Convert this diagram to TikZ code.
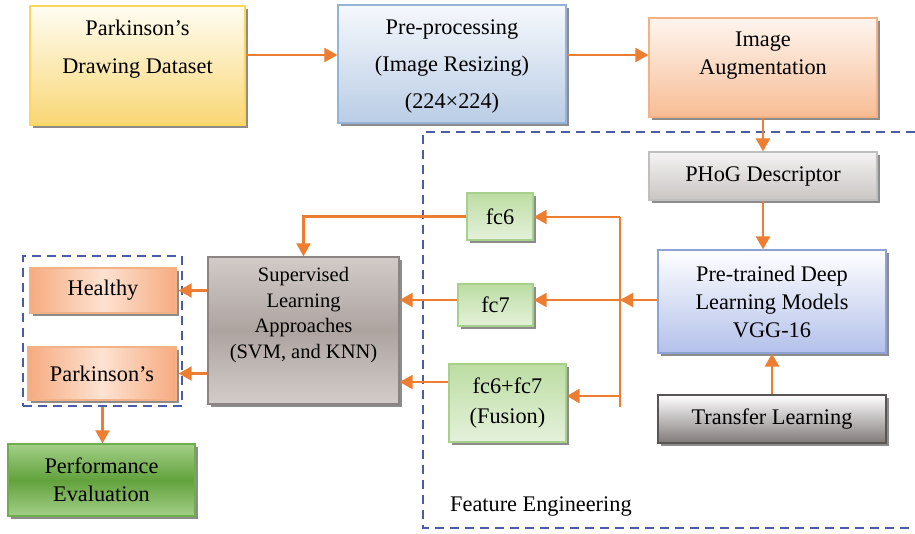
\documentclass[tikz,border=0pt]{standalone}
\usepackage{fontspec}
\setmainfont{Liberation Serif}
\usetikzlibrary{shadows,arrows.meta,calc}

\definecolor{arrowC}{HTML}{ED7D31}
\definecolor{dashC}{HTML}{4A5BA8}
\definecolor{yelB}{HTML}{FFD65C}
\definecolor{yelT}{HTML}{FFFDF2}
\definecolor{yelD}{HTML}{F9D775}
\definecolor{bluB}{HTML}{95B3D7}
\definecolor{bluT}{HTML}{F6F8FC}
\definecolor{bluD}{HTML}{B9CDE5}
\definecolor{orgB}{HTML}{F4B183}
\definecolor{orgT}{HTML}{FEF5EF}
\definecolor{orgD}{HTML}{F7BD95}
\definecolor{gryB}{HTML}{BFBFBF}
\definecolor{gryT}{HTML}{F4F3F3}
\definecolor{gryD}{HTML}{C9C5C3}
\definecolor{vggB}{HTML}{8FA2D4}
\definecolor{vggD}{HTML}{B3C0EA}
\definecolor{tlB}{HTML}{5A5555}
\definecolor{tlD}{HTML}{7F7A78}
\definecolor{grnB}{HTML}{A8D08D}
\definecolor{grnT}{HTML}{BCDDA3}
\definecolor{grnD}{HTML}{E5F1DB}
\definecolor{svmB}{HTML}{8C8482}
\definecolor{svmT}{HTML}{D2CBC7}
\definecolor{svmM}{HTML}{ADA4A0}
\definecolor{svmD}{HTML}{D3CCC9}
\definecolor{outB}{HTML}{F4B183}
\definecolor{outE}{HTML}{F6AB80}
\definecolor{outM}{HTML}{FDE2D2}
\definecolor{perB}{HTML}{6FAE4C}
\definecolor{perE}{HTML}{A3CF88}
\definecolor{perM}{HTML}{62A23C}

\tikzset{
  box/.style={rectangle, line width=1.3pt, inner sep=0pt, align=center,
    drop shadow={shadow xshift=3pt, shadow yshift=-3pt, fill=black!50, opacity=0.9}},
  txt/.style={align=center, inner sep=0pt},
  conn/.style={draw=arrowC, line width=2.2pt, -{Triangle[length=13pt,width=14pt]}},
  wire/.style={draw=arrowC, line width=2.2pt},
  grp/.style={draw=dashC, line width=1.6pt, dash pattern=on 9pt off 6pt},
}

\begin{document}
\begin{tikzpicture}[x=1pt, y=-1pt, font=\fontsize{22.3}{28}\selectfont]
\useasboundingbox (0,0) rectangle (915,533);

% top row
\node[box, draw=yelB, top color=yelT, bottom color=yelD,
      minimum width=215pt, minimum height=119pt] (ds) at (137.5,65.5) {};
\node[txt, font=\fontsize{22.3}{38}\selectfont] (dsT) at (137.5,49) {Parkinson’s\\Drawing Dataset};

\node[box, draw=bluB, top color=bluT, bottom color=bluD,
      minimum width=228pt, minimum height=118pt] (pre) at (452,64) {};
\node[txt, font=\fontsize{22.3}{37}\selectfont] (preT) at (452,66) {Pre-processing\\(Image Resizing)\\(224×224)};

\node[box, draw=orgB, top color=orgT, bottom color=orgD,
      minimum width=228pt, minimum height=99pt] (aug) at (763,67.5) {};
\node[txt] (augT) at (763,56) {Image\\Augmentation};

% feature engineering
\node[box, draw=gryB, top color=gryT, bottom color=gryD,
      minimum width=228pt, minimum height=48pt] (phog) at (763,176) {PHoG Descriptor};

\node[box, draw=vggB, top color=white, bottom color=vggD,
      minimum width=228pt, minimum height=103pt] (vgg) at (772,301.5) {Pre-trained Deep\\Learning Models\\VGG-16};

\node[box, draw=tlB, top color=white, bottom color=tlD,
      minimum width=228pt, minimum height=48pt] (tl) at (772,419) {Transfer Learning};

\node[box, draw=grnB, top color=grnT, bottom color=grnD,
      minimum width=66pt, minimum height=47pt] (fc6) at (500,216.5) {fc6};
\node[box, draw=grnB, top color=grnT, bottom color=grnD,
      minimum width=75pt, minimum height=42pt] (fc7) at (495.5,305) {fc7};
\node[box, draw=grnB, top color=grnT, bottom color=grnD,
      minimum width=117pt, minimum height=78pt, font=\fontsize{22.3}{30}\selectfont] (fus) at (507.5,403) {fc6+fc7\\(Fusion)};

\draw[grp] (915,132) -- (423,132) -- (423,528) -- (915,528);
\node[anchor=west, inner sep=0pt] (feT) at (450,507) {Feature Engineering};

% classification
\node[box, draw=svmB, top color=svmT, bottom color=svmD, middle color=svmM,
      minimum width=191pt, minimum height=147pt] (svm) at (303.5,330.5) {};
\node[txt, font=\fontsize{20.5}{25.5}\selectfont] (svmT) at (303.5,315) {Supervised\\Learning\\Approaches\\(SVM, and KNN)};

\node[grp, rectangle, minimum width=159pt, minimum height=150pt, inner sep=0pt] (outg) at (102.5,331) {};
\node[box, draw=outB, left color=outE, right color=outE, middle color=outM,
      minimum width=146pt, minimum height=45pt] (hl) at (103,290.5) {Healthy};
\node[box, draw=outB, left color=outE, right color=outE, middle color=outM,
      minimum width=148pt, minimum height=53pt] (pk) at (102,373.5) {Parkinson’s};

\node[box, draw=perB, top color=perE, bottom color=perE, middle color=perM,
      minimum width=187pt, minimum height=72pt] (perf) at (101.5,480) {Performance\\Evaluation};

% bus of the feature taps
\coordinate (busTop) at (620,217);
\coordinate (busBot) at (620,407);
\coordinate (j7) at (620,300);
\coordinate (j8) at (620,396);

% connectors
\draw[conn] ([yshift=10.5pt]ds.east) -- ([yshift=9pt]pre.west);
\draw[conn] ([yshift=9pt]pre.east) -- ([yshift=12.5pt]aug.west);
\draw[conn] (aug.south) -- (phog.north);
\draw[conn] (phog.south) -- (phog.south |- vgg.north);
\draw[conn] (tl.north) -- (vgg.south);
\draw[wire] (busTop) -- (busBot);
\draw[conn] (vgg.west |- j7) -- (j7);
\draw[conn] (j7) -- (j7 -| fc7.east);
\draw[conn] (busTop) -- (busTop -| fc6.east);
\draw[conn] (j8) -- (j8 -| fus.east);
\draw[conn] (fc6.west) -| (svm.north);
\draw[conn] (fc7.west |- j7) -- (svm.east |- j7);
\draw[conn] ([yshift=21pt]fus.west) -- ([yshift=21pt]fus.west -| svm.east);
\draw[conn] (svm.west |- hl.east) -- ([xshift=2pt]hl.east);
\draw[conn] (svm.west |- pk.east) -- ([xshift=2pt]pk.east);
\draw[conn] (outg.south) -- (outg.south |- perf.north);
\end{tikzpicture}
\end{document}
